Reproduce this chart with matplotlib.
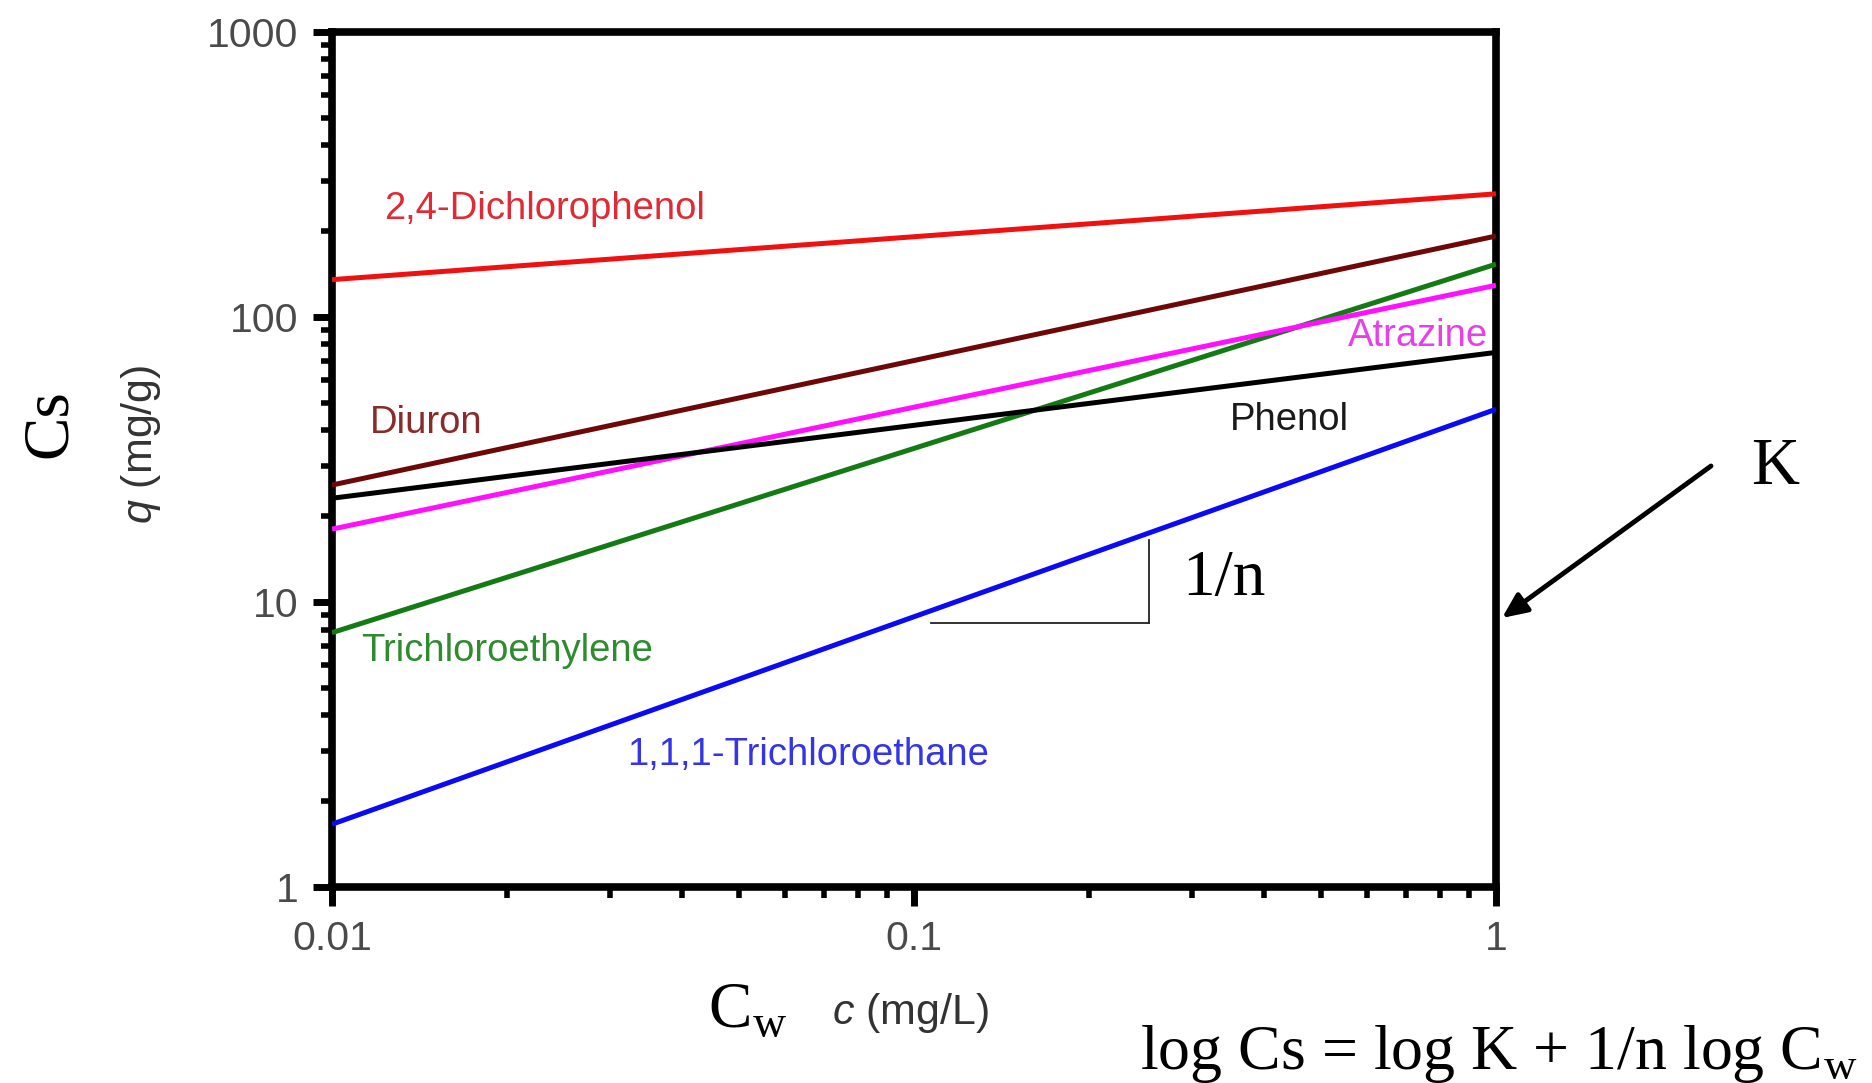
import matplotlib
matplotlib.use("Agg")
import matplotlib.pyplot as plt
from matplotlib.patches import FancyArrowPatch
import numpy as np

plt.rcParams['mathtext.fontset'] = 'custom'
plt.rcParams['mathtext.rm'] = 'Liberation Serif'
plt.rcParams['mathtext.it'] = 'Liberation Sans:italic'

# ---- data ----
x_ends = [0.01, 1.0]
names = ["2,4-Dichlorophenol", "Diuron", "Trichloroethylene", "Atrazine", "Phenol", "1,1,1-Trichloroethane"]
q_dichlorophenol = [135, 270]
q_diuron = [25.7, 192]
q_tce = [7.8, 153]
q_atrazine = [18.0, 129]
q_phenol = [23.1, 75]
q_tca = [1.66, 47.4]
series = [q_dichlorophenol, q_diuron, q_tce, q_atrazine, q_phenol, q_tca]
line_colors = ["#F01010", "#6E0808", "#147A14", "#FF10FF", "#000000", "#0A0AF5"]
text_colors = ["#E02A35", "#8A2A2A", "#2E8B2E", "#E840E8", "#1A1A1A", "#3535E8"]
label_pos = [(0.01228, 239), (0.01162, 42.5), (0.01121, 6.7), (0.969, 85.8), (0.349, 43.5), (0.0321, 2.91)]
label_ha = ["left", "left", "left", "right", "left", "left"]
yticks = [1, 10, 100, 1000]
ytick_labels = ["1", "10", "100", "1000"]
xticks = [0.01, 0.1, 1]
xtick_labels = ["0.01", "0.1", "1"]

W, H = 1872, 1083
fig = plt.figure(figsize=(W / 100, H / 100), dpi=100)
L, R, T, B = 332, 1496, 31.7, 887
ax = fig.add_axes([L / W, 1 - B / H, (R - L) / W, (B - T) / H])
ax.set_xscale('log')
ax.set_yscale('log')
ax.set_xlim(0.01, 1)
ax.set_ylim(1, 1000)

for s, c in zip(series, line_colors):
    ax.plot(x_ends, s, color=c, lw=3.6, solid_capstyle='butt', zorder=3)

for n, (px, py), c, ha in zip(names, label_pos, text_colors, label_ha):
    ax.text(px, py, n, color=c, fontsize=27.5, family='Liberation Sans', ha=ha, va='center')

for sp in ax.spines.values():
    sp.set_linewidth(5.5)
    sp.set_color('black')

ax.set_yticks(yticks)
ax.set_yticklabels(ytick_labels)
ax.set_xticks(xticks)
ax.set_xticklabels(xtick_labels)
ax.tick_params(which='major', length=14, width=5, direction='out', pad=10,
               labelsize=29.5, labelcolor='#4a4a4a', top=False, right=False)
ax.tick_params(which='minor', length=8, width=4, direction='out', top=False, right=False)
for lab in ax.get_xticklabels() + ax.get_yticklabels():
    lab.set_family('Liberation Sans')

# slope triangle (1/n)
ax.plot([0.107, 0.2535], [8.43, 8.43], color='#222222', lw=1.3, zorder=2)
ax.plot([0.2535, 0.2535], [8.43, 16.5], color='#222222', lw=1.3, zorder=2)

serif = 'Liberation Serif'
fig.text(1182 / W, 1 - 579 / H, "1/n", fontsize=47, family=serif, ha='left', va='center')
fig.text(1775 / W, 1 - 468 / H, "K", fontsize=48, family=serif, ha='center', va='center')
fig.text(50 / W, 1 - 424 / H, "Cs", fontsize=47, family=serif, rotation=90, ha='center', va='center')
fig.text(141 / W, 1 - 444 / H, r"$\mathit{q}$ (mg/g)", fontsize=31, family='Liberation Sans',
         color='#333333', rotation=90, ha='center', va='center')
fig.text(708 / W, 1 - 1027 / H, r"C$_\mathrm{w}$", fontsize=47, family=serif, ha='left', va='baseline')
fig.text(832 / W, 1 - 1024 / H, r"$\mathit{c}$ (mg/L)", fontsize=31, family='Liberation Sans',
         color='#333333', ha='left', va='baseline')
fig.text(1140 / W, 1 - 1069 / H, r"log Cs = log K + 1/n log C$_\mathrm{w}$", fontsize=46,
         family=serif, ha='left', va='baseline')

arrow = FancyArrowPatch((1711 / W, 1 - 466 / H), (1502 / W, 1 - 618 / H),
                        transform=fig.transFigure, arrowstyle='-|>,head_length=10,head_width=4.5',
                        color='black', lw=3.5, mutation_scale=1.5, shrinkA=0, shrinkB=0)
fig.patches.append(arrow)

fig.savefig("out.png", dpi=100, facecolor='white')
